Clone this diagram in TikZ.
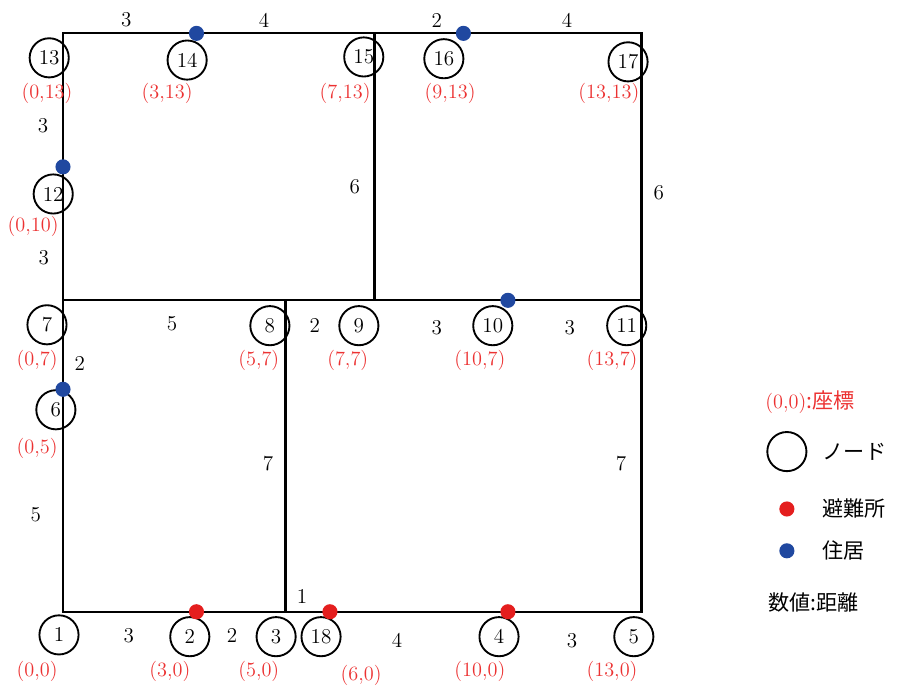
\documentclass[tikz,border=0pt]{standalone}
\usepackage{fontspec}
\usepackage{tikz}
\usetikzlibrary{positioning}
\newfontfamily\jpfont{Noto Sans CJK JP}
\definecolor{mpcoord}{RGB}{236,50,50}
\definecolor{mpshel}{RGB}{228,30,30}
\definecolor{mphome}{RGB}{32,72,160}
\tikzset{
  road/.style={draw=black, line width=1.45pt, line cap=rect},
  nd/.style={
    circle, draw=black, line width=1.2pt, minimum size=8.8mm,
    inner sep=0pt, font=\fontsize{13.5}{16}\selectfont
  },
  crd/.style={text=mpcoord, font=\fontsize{13}{15}\selectfont, inner sep=1pt},
  wt/.style={font=\fontsize{13.5}{16}\selectfont, inner sep=1pt},
  shel/.style={circle, fill=mpshel, minimum size=3.4mm, inner sep=0pt},
  home/.style={circle, fill=mphome, minimum size=3.4mm, inner sep=0pt},
  lgd/.style={anchor=west, inner sep=0pt, font=\fontsize{13.5}{16}\selectfont\jpfont}
}

\begin{document}
\begin{tikzpicture}[x=1cm, y=1cm]
  \useasboundingbox (-1.416,-1.775) rectangle (18.79,13.75);

  % grid points of the road map
  \foreach \n/\p in {1/{0,0},2/{3,0},3/{5,0},18/{6,0},4/{10,0},5/{13,0},
                     6/{0,5},7/{0,7},8/{5,7},9/{7,7},10/{10,7},11/{13,7},
                     12/{0,10},13/{0,13},14/{3,13},15/{7,13},16/{9,13},17/{13,13}}
    \coordinate (v\n) at (\p);

  \foreach \a/\b in {1/2,2/3,3/18,18/4,4/5,5/11,11/17,17/16,16/15,15/14,14/13,
                     13/12,12/7,7/6,6/1,7/8,8/9,9/10,10/11,8/3,9/15}
    \draw[road] (v\a) -- (v\b);

  % nodes
  \node[nd] (n1)  at (-0.09,-0.52) {1};
  \node[nd] (n2)  at (2.85,-0.56) {2};
  \node[nd] (n3)  at (4.79,-0.56) {3};
  \node[nd] (n18) at (5.80,-0.56) {18};
  \node[nd] (n4)  at (9.80,-0.56) {4};
  \node[nd] (n5)  at (12.83,-0.56) {5};
  \node[nd] (n6)  at (-0.16,4.54) {6};
  \node[nd] (n7)  at (-0.36,6.45) {7};
  \node[nd] (n8)  at (4.65,6.43) {8};
  \node[nd] (n9)  at (6.65,6.43) {9};
  \node[nd] (n10) at (9.66,6.43) {10};
  \node[nd] (n11) at (12.67,6.43) {11};
  \node[nd] (n12) at (-0.22,9.39) {12};
  \node[nd] (n13) at (-0.31,12.45) {13};
  \node[nd] (n14) at (2.79,12.40) {14};
  \node[nd] (n15) at (6.76,12.47) {15};
  \node[nd] (n16) at (8.56,12.43) {16};
  \node[nd] (n17) at (12.70,12.36) {17};

  % coordinates
  \node[crd] at (-0.36,11.64) {(0,13)};
  \node[crd] at (2.34,11.64) {(3,13)};
  \node[crd] at (6.34,11.64) {(7,13)};
  \node[crd] at (8.70,11.64) {(9,13)};
  \node[crd] at (12.27,11.64) {(13,13)};
  \node[crd] at (-0.67,8.65) {(0,10)};
  \node[crd] at (-0.58,5.64) {(0,7)};
  \node[crd] at (4.40,5.64) {(5,7)};
  \node[crd] at (6.40,5.64) {(7,7)};
  \node[crd] at (9.37,5.64) {(10,7)};
  \node[crd] at (12.34,5.64) {(13,7)};
  \node[crd] at (-0.58,3.66) {(0,5)};
  \node[crd] at (-0.58,-1.33) {(0,0)};
  \node[crd] at (2.40,-1.33) {(3,0)};
  \node[crd] at (4.40,-1.33) {(5,0)};
  \node[crd] at (6.70,-1.42) {(6,0)};
  \node[crd] at (9.37,-1.33) {(10,0)};
  \node[crd] at (12.34,-1.33) {(13,0)};

  % distances
  \foreach \p/\w in {{1.42,13.30}/3,{4.52,13.30}/4,{8.40,13.30}/2,{11.33,13.30}/4,
                     {-0.45,10.92}/3,{-0.43,7.96}/3,{6.56,9.55}/6,{13.39,9.42}/6,
                     {2.45,6.47}/5,{5.66,6.43}/2,{8.40,6.38}/3,{11.39,6.38}/3,
                     {0.38,5.57}/2,{4.61,3.33}/7,{12.54,3.33}/7,{-0.61,2.18}/5,
                     {5.37,0.34}/1,{1.48,-0.54}/3,{3.80,-0.54}/2,{7.51,-0.65}/4,
                     {11.44,-0.65}/3}
    \node[wt] at (\p) {\w};

  % shelters and houses
  \foreach \n in {2,18,4} \node[shel] at (v\n) {};
  \foreach \n in {14,16,12,6,10} \node[home] at (v\n) {};

  % legend
  \node[lgd, text=mpcoord] (lc) at (15.78,4.70)
    {{\fontsize{13}{15}\selectfont\rmfamily (0,0)}:座標};
  \node[nd] (ln) at (16.27,3.60) {};
  \node[lgd, right=3.4mm of ln] (lnt) {ノード};
  \node[shel] (ls) at (16.27,2.31) {};
  \node[lgd] (lst) at (17.06,2.31) {避難所};
  \node[home] (lh) at (16.27,1.37) {};
  \node[lgd] (lht) at (17.06,1.37) {住居};
  \node[lgd] (lw) at (15.84,0.20) {数値:距離};
\end{tikzpicture}
\end{document}
